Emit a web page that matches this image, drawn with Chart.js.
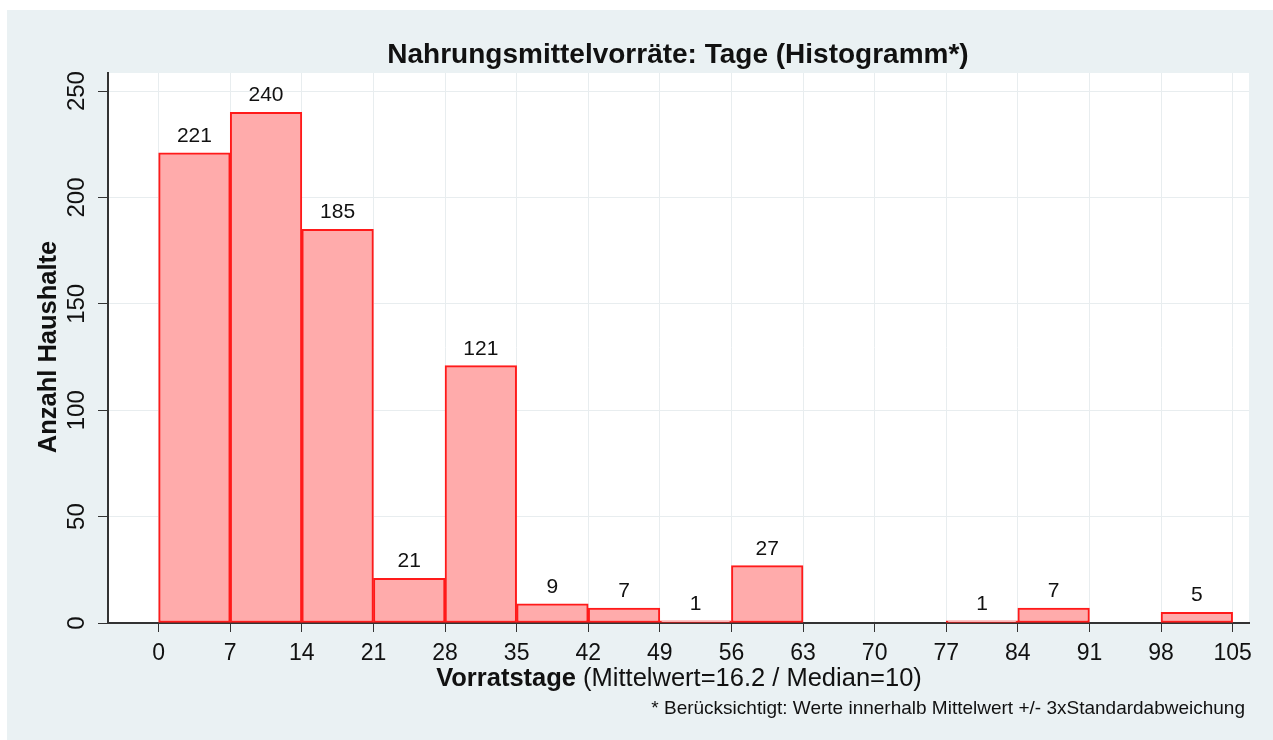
<!DOCTYPE html>
<html>
<head>
<meta charset="utf-8">
<script src="https://cdn.jsdelivr.net/npm/chart.js@4"></script>
<style>
  html, body { margin: 0; padding: 0; background: #ffffff; }
  #wrap { position: absolute; left: 7px; top: 10px; width: 1266px; height: 730px; background: #eaf1f3; }
</style>
</head>
<body>
<div id="wrap"><canvas id="chart"></canvas></div>
<script>
// histogram bins (width 7 days) and household counts
const binStarts = [0, 7, 14, 21, 28, 35, 42, 49, 56, 63, 70, 77, 84, 91, 98];
const binWidth = 7;
const counts = [221, 240, 185, 21, 121, 9, 7, 1, 27, 0, 0, 1, 7, 0, 5];
const xTicks = [0, 7, 14, 21, 28, 35, 42, 49, 56, 63, 70, 77, 84, 91, 98, 105];
const yTicks = [0, 50, 100, 150, 200, 250];

const titleText = "Nahrungsmittelvorräte: Tage (Histogramm*)";
const xTitleBold = "Vorratstage";
const xTitleRest = " (Mittelwert=16.2 / Median=10)";
const yTitle = "Anzahl Haushalte";
const noteText = "* Berücksichtigt: Werte innerhalb Mittelwert +/- 3xStandardabweichung";

const FONT = "'Liberation Sans', Arial, sans-serif";

// white plot region behind the bars
const plotBg = {
  id: "plotBg",
  beforeDraw(chart) {
    const { ctx, chartArea: a } = chart;
    ctx.save();
    ctx.fillStyle = "#ffffff";
    ctx.fillRect(a.left, a.top, a.right - a.left, a.bottom - a.top);
    ctx.restore();
  },
};

const textPlugin = {
  id: "texts",
  afterDraw(chart) {
    const ctx = chart.ctx;
    const y = chart.scales.y;
    ctx.save();
    ctx.fillStyle = "#111";

    // title
    ctx.font = "bold 28px " + FONT;
    ctx.textAlign = "center";
    ctx.textBaseline = "middle";
    ctx.fillText(titleText, 671, 45);

    // x axis title, bold + normal parts
    ctx.font = "bold 25.5px " + FONT;
    const w1 = ctx.measureText(xTitleBold).width;
    ctx.font = "25.5px " + FONT;
    const w2 = ctx.measureText(xTitleRest).width;
    const x0 = 672 - (w1 + w2) / 2;
    ctx.textAlign = "left";
    ctx.font = "bold 25.5px " + FONT;
    ctx.fillText(xTitleBold, x0, 669);
    ctx.font = "25.5px " + FONT;
    ctx.fillText(xTitleRest, x0 + w1, 669);

    // note
    ctx.font = "19px " + FONT;
    ctx.textAlign = "right";
    ctx.fillText(noteText, 1238, 699);

    // y axis title and rotated tick labels
    ctx.save();
    ctx.translate(42, 337);
    ctx.rotate(-Math.PI / 2);
    ctx.font = "bold 25.5px " + FONT;
    ctx.textAlign = "center";
    ctx.fillText(yTitle, 0, 0);
    ctx.restore();

    ctx.font = "24px " + FONT;
    yTicks.forEach((v) => {
      ctx.save();
      ctx.translate(70, y.getPixelForValue(v));
      ctx.rotate(-Math.PI / 2);
      ctx.textAlign = "center";
      ctx.fillText(String(v), 0, 0);
      ctx.restore();
    });

    // value labels above bars
    const meta = chart.getDatasetMeta(0);
    ctx.font = "21px " + FONT;
    ctx.textAlign = "center";
    ctx.textBaseline = "alphabetic";
    meta.data.forEach((bar, i) => {
      if (!counts[i]) return;
      ctx.fillText(String(counts[i]), bar.x, bar.y - 11);
    });
    ctx.restore();
  },
};

new Chart(document.getElementById("chart"), {
  type: "bar",
  data: {
    datasets: [
      {
        data: binStarts.map((s, i) => ({ x: s + binWidth / 2, y: counts[i] || null })),
        backgroundColor: "#ffabab",
        borderColor: "#ff1a1a",
        borderWidth: 2,
        borderSkipped: false,
        barPercentage: 1,
        categoryPercentage: 1,
      },
    ],
  },
  options: {
    responsive: true,
    maintainAspectRatio: false,
    animation: false,
    layout: { padding: { top: 63, right: 24, left: 0, bottom: 0 } },
    plugins: {
      legend: { display: false },
      tooltip: { enabled: false },
    },
    scales: {
      x: {
        type: "linear",
        offset: false,
        min: -4.95,
        max: 106.6,
        afterBuildTicks: (s) => { s.ticks = xTicks.map((v) => ({ value: v })); },
        afterFit: (s) => { s.height = 117; },
        ticks: { color: "#111", font: { family: FONT, size: 23 }, padding: 8, maxRotation: 0, autoSkip: false },
        grid: { offset: false, color: "#e8edef", tickColor: "#333", tickLength: 9, lineWidth: 1 },
        border: { color: "#333", width: 2 },
      },
      y: {
        min: 0,
        max: 258.5,
        afterBuildTicks: (s) => { s.ticks = yTicks.map((v) => ({ value: v })); },
        afterFit: (s) => { s.width = 101; },
        ticks: { color: "rgba(0,0,0,0)", font: { family: FONT, size: 24 } },
        grid: { color: "#e8edef", tickColor: "#333", tickLength: 10, lineWidth: 1 },
        border: { color: "#333", width: 2 },
      },
    },
  },
  plugins: [plotBg, textPlugin],
});
</script>
</body>
</html>
